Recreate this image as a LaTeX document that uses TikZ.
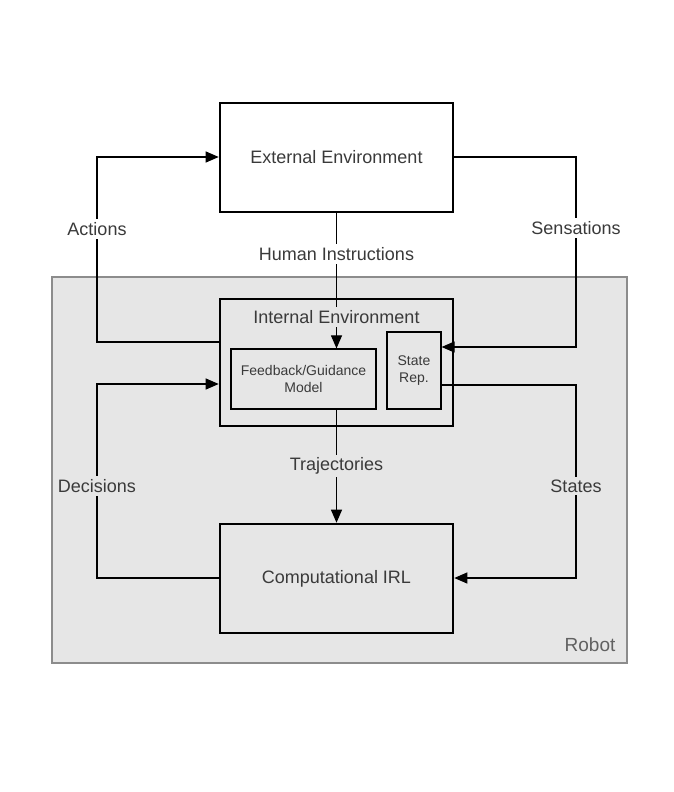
\documentclass[tikz,border=0pt]{standalone}
\usepackage{fontspec}
\setmainfont{Liberation Sans}
\usepackage{tikz}
\usetikzlibrary{arrows.meta,backgrounds,positioning}
\definecolor{robotfill}{HTML}{E6E6E6}
\definecolor{robotline}{HTML}{8C8C8C}
\definecolor{txtgray}{HTML}{3A3A3A}
\tikzset{
  bigbox/.style={ draw, line width=1.3pt, minimum width=116.5pt, minimum height=54.5pt, text=txtgray, font=\fontsize{9}{11}\selectfont }
}
\tikzset{
  smallbox/.style={ draw, line width=0.6pt, text=txtgray, align=center, font=\fontsize{7}{8.5}\selectfont }
}
\tikzset{
  flowlbl/.style={ fill=#1, inner sep=1.5pt, text=txtgray, font=\fontsize{9}{11}\selectfont },
  flowlbl/.default=white
}
\tikzset{
  flow/.style={ line width=0.55pt, -{Triangle[length=6.5pt,width=5.5pt]} }
}

\begin{document}
\begin{tikzpicture}[x=0.5pt, y=-0.5pt]
      \useasboundingbox (0,0) rectangle (674,792);
      \draw[fill=robotfill, draw=robotline, line width=0.6pt] (52,277) rectangle (627,663);
      \node[text=txtgray!80, font=\fontsize{9.5}{11}\selectfont] (robot) at (590,645) {Robot};

      \node[bigbox] (ext) at (336.5,157.5) {External Environment};
      \node[bigbox, minimum height=63.5pt] (int) at (336.5,362.5) {};
      \node[smallbox, minimum width=72.5pt, minimum height=30pt] (fb) at (303.5,379) {Feedback/Guidance\\Model};
      \node[smallbox, minimum width=27pt, minimum height=38.5pt] (srep) at (414,370.5) {State\\Rep.};
      \node[bigbox] (irl) at (336.5,578.5) {Computational IRL};

      \coordinate (aa) at (97,342);
      \coordinate (ab) at (97,157);
      \coordinate (sa) at (576,157);
      \coordinate (sb) at (576,347);
      \coordinate (da) at (97,578);
      \coordinate (db) at (97,384);
      \coordinate (ta) at (576,385);
      \coordinate (tb) at (576,578);

      \draw[flow] (int.west |- aa) -- (aa) -- (ab) -- (ext.west |- ab);
      \draw[flow] (ext.east |- sa) -- (sa) -- (sb) -- (srep.east |- sb);
      \draw[flow] (ext.south) -- (fb.north -| ext.south);
      \draw[flow] (fb.south -| irl.north) -- (irl.north);
      \draw[flow] (irl.west |- da) -- (da) -- (db) -- (int.west |- db);
      \draw[flow] (srep.east |- ta) -- (ta) -- (tb) -- (irl.east |- tb);

      \node[flowlbl=robotfill] (intlbl) at (336.5,317) {Internal Environment};
      \node[flowlbl] (actions) at (97,229) {Actions};
      \node[flowlbl] (sens) at (576,228) {Sensations};
      \node[flowlbl] (human) at (336.5,254) {Human Instructions};
      \node[flowlbl=robotfill] (traj) at (336.5,466) {Trajectories};
      \node[flowlbl=robotfill] (dec) at (97,486) {Decisions};
      \node[flowlbl=robotfill] (states) at (576,486) {States};
    \end{tikzpicture}
\end{document}
